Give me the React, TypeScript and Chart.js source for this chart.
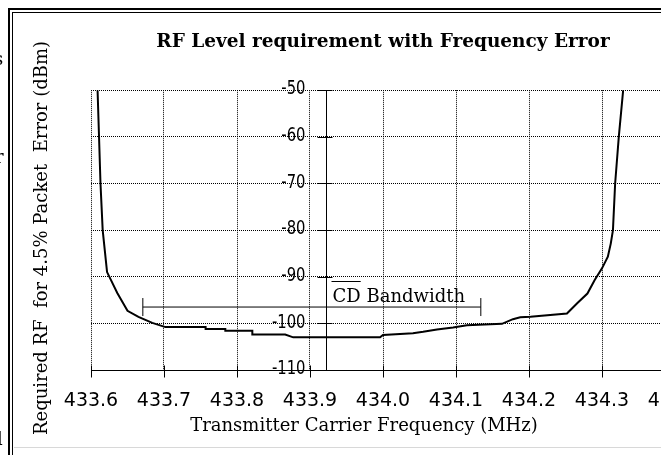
import React, { useEffect, useRef } from "react";
import { Chart, registerables } from "chart.js";

Chart.register(...registerables);

// ---- data ----
const freqMHz = [
  433.609, 433.611, 433.613, 433.616, 433.62, 433.622, 433.636, 433.65, 433.665, 433.684,
  433.702, 433.757, 433.757, 433.784, 433.784, 433.821, 433.821, 433.866, 433.877, 433.996,
  434.0, 434.041, 434.055, 434.074, 434.096, 434.115, 434.163, 434.178, 434.188, 434.202,
  434.252, 434.266, 434.28, 434.29, 434.3, 434.308, 434.312, 434.315, 434.318, 434.323, 434.329,
];
const rfLevelDbm = [
  -50, -60, -70, -80, -86, -89, -93.5, -97.3, -98.6, -99.9,
  -100.8, -100.8, -101.2, -101.2, -101.6, -101.6, -102.4, -102.4, -103, -103,
  -102.5, -102.1, -101.8, -101.3, -100.9, -100.4, -100.1, -99.1, -98.7, -98.6,
  -97.9, -95.7, -93.6, -90.7, -88.2, -85.7, -82.9, -80, -70, -60, -50,
];
const xTickValues = [433.6, 433.7, 433.8, 433.9, 434.0, 434.1, 434.2, 434.3, 434.4];
const yTickValues = [-110, -100, -90, -80, -70, -60, -50];
const yAxisCrossMHz = [433.922];
const bandwidthMHz = [433.671, 434.134];
const bandwidthLevelDbm = [-96.5, -96.5];

const chartTitle = "RF Level requirement with Frequency Error";
const xTitle = "Transmitter Carrier Frequency (MHz)";
const yTitle = "Required RF  for 4.5% Packet  Error (dBm)";
const bandwidthOverlined = "CD";
const bandwidthRest = " Bandwidth";

const CANVAS_W = 765;
const CANVAS_H = 455;

const decorPlugin = {
  id: "decor",
  afterDraw(chart: any) {
    const { ctx } = chart;
    const x = chart.scales.x;
    const y = chart.scales.y;
    const ax = Math.round(x.getPixelForValue(yAxisCrossMHz[0])) + 0.5;
    const ay = Math.round(y.getPixelForValue(yTickValues[0])) + 0.5;
    ctx.save();
    ctx.strokeStyle = "#000";
    ctx.lineWidth = 1;
    ctx.setLineDash([]);
    ctx.beginPath();
    xTickValues.forEach((v) => {
      const px = Math.round(x.getPixelForValue(v)) + 0.5;
      ctx.moveTo(px, ay - 5);
      ctx.lineTo(px, ay + 7);
    });
    yTickValues.forEach((v) => {
      const py = Math.round(y.getPixelForValue(v)) + 0.5;
      ctx.moveTo(ax - 9, py);
      ctx.lineTo(ax + 6, py);
    });
    ctx.stroke();

    // y tick labels (left of the crossing axis), slightly condensed
    ctx.fillStyle = "#000";
    ctx.font = '20px "DejaVu Sans"';
    ctx.textAlign = "right";
    ctx.textBaseline = "middle";
    yTickValues.forEach((v) => {
      ctx.save();
      ctx.translate(ax - 21, y.getPixelForValue(v) - 1);
      ctx.scale(0.74, 1);
      ctx.fillText(String(v), 0, 0);
      ctx.restore();
    });

    // CD Bandwidth label
    ctx.font = '18px "DejaVu Serif"';
    ctx.textAlign = "left";
    ctx.textBaseline = "alphabetic";
    const tx = ax + 6;
    const ty = y.getPixelForValue(bandwidthLevelDbm[0]) - 5;
    ctx.fillText(bandwidthOverlined + bandwidthRest, tx, ty);
    const ow = ctx.measureText(bandwidthOverlined).width;
    ctx.beginPath();
    ctx.moveTo(tx - 1, Math.round(ty - 21) + 0.5);
    ctx.lineTo(tx + ow, Math.round(ty - 21) + 0.5);
    ctx.stroke();

    // axis titles
    ctx.font = '18px "DejaVu Serif"';
    ctx.textAlign = "center";
    ctx.textBaseline = "middle";
    ctx.fillText(xTitle, 364, 426);
    ctx.translate(42, 238);
    ctx.rotate(-Math.PI / 2);
    ctx.fillText(yTitle, 0, 0);
    ctx.restore();
  },
};

export default function App() {
  const ref = useRef<HTMLCanvasElement | null>(null);

  useEffect(() => {
    if (!ref.current) return;
    const chart = new Chart(ref.current, {
      type: "line",
      data: {
        datasets: [
          {
            label: "RF level",
            data: freqMHz.map((f, i) => ({ x: f, y: rfLevelDbm[i] })),
            borderColor: "#000",
            borderWidth: 2,
            pointRadius: 0,
            tension: 0,
            fill: false,
          },
          {
            label: "CD Bandwidth",
            data: bandwidthMHz.map((f, i) => ({ x: f, y: bandwidthLevelDbm[i] })),
            borderColor: "#000",
            borderWidth: 1,
            pointStyle: "line",
            rotation: 90,
            pointRadius: 9,
            pointBorderWidth: 1,
            pointBorderColor: "#000",
            fill: false,
          },
        ],
      },
      options: {
        animation: false,
        responsive: false,
        maintainAspectRatio: false,
        events: [],
        layout: { padding: { left: 91, top: 8, right: CANVAS_W - 675, bottom: 0 } },
        plugins: {
          legend: { display: false },
          tooltip: { enabled: false },
          title: {
            display: true,
            text: chartTitle,
            color: "#000",
            font: { family: "DejaVu Serif", size: 18.5, weight: "bold" },
            padding: { top: 23, bottom: 37 },
          },
        },
        scales: {
          x: {
            type: "linear",
            min: 433.6,
            max: 434.4,
            afterBuildTicks: (s: any) => {
              s.ticks = xTickValues.map((v) => ({ value: v }));
            },
            afterFit: (s: any) => {
              s.height = 85;
            },
            ticks: {
              callback: (v: any) => Number(v).toFixed(1),
              color: "#000",
              font: { family: "DejaVu Sans", size: 19 },
              padding: 20,
              maxRotation: 0,
              autoSkip: false,
            },
            grid: { color: "#000", lineWidth: 1, drawTicks: false },
            border: { display: true, color: "#000", width: 1, dash: [1, 1] },
          },
          y: {
            type: "linear",
            min: -110,
            max: -50,
            position: { x: yAxisCrossMHz[0] } as any,
            afterBuildTicks: (s: any) => {
              s.ticks = yTickValues.map((v) => ({ value: v }));
            },
            ticks: { display: false },
            grid: { color: "#000", lineWidth: 1, drawTicks: false },
            border: { display: true, color: "#000", width: 1, dash: [1, 1] },
          },
        },
      },
      plugins: [decorPlugin],
    } as any);
    return () => chart.destroy();
  }, []);

  const line = (l: number, t: number, w: number, h: number, c = "#000") => (
    <div style={{ position: "absolute", left: l, top: t, width: w, height: h, background: c }} />
  );

  return (
    <div style={{ position: "fixed", left: 0, top: 0, width: 661, height: 455, overflow: "hidden", background: "#fff" }}>
      <canvas
        ref={ref}
        width={CANVAS_W}
        height={CANVAS_H}
        style={{ position: "absolute", left: 0, top: 0, width: CANVAS_W, height: CANVAS_H }}
      />
      {line(8, 8, 653, 2)}
      {line(12, 12, 649, 1)}
      {line(8, 8, 2, 447)}
      {line(12, 12, 1, 443)}
      {line(14, 447, 647, 1, "#d8d8d8")}
      <span style={{ position: "absolute", left: -6, top: 48, font: '18px "DejaVu Serif"', color: "#000" }}>s</span>
      <span style={{ position: "absolute", left: -5, top: 146, font: '18px "DejaVu Serif"', color: "#000" }}>r</span>
      <span style={{ position: "absolute", left: -3, top: 428, font: '18px "DejaVu Serif"', color: "#000" }}>l</span>
    </div>
  );
}
